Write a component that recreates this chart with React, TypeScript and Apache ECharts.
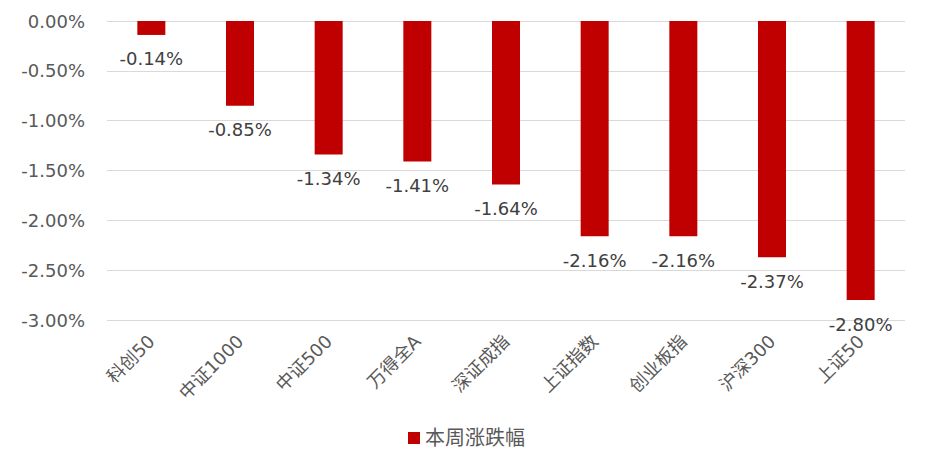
import React, { useEffect, useRef } from "react";
import * as echarts from "echarts";

const categories = ["科创50", "中证1000", "中证500", "万得全A", "深证成指", "上证指数", "创业板指", "沪深300", "上证50"];
const weeklyChange = [-0.14, -0.85, -1.34, -1.41, -1.64, -2.16, -2.16, -2.37, -2.8];
const seriesName = "本周涨跌幅";

const FONT = "'DejaVu Sans', 'Noto Sans CJK SC', sans-serif";

export default function App() {
  const ref = useRef<HTMLDivElement>(null);
  useEffect(() => {
    document.body.style.margin = "0";
    const chart = echarts.init(ref.current!, null, { renderer: "svg" });
    chart.setOption({
      animation: false,
      textStyle: { fontFamily: FONT },
      grid: { left: 107, right: 25, top: 21, bottom: 145 },
      legend: {
        data: [seriesName],
        left: 403,
        top: 423,
        itemWidth: 12,
        itemHeight: 12,
        icon: "rect",
        itemGap: 10,
        textStyle: { fontSize: 20, color: "#595959", fontFamily: FONT },
      },
      xAxis: {
        type: "category",
        data: categories,
        position: "bottom",
        axisLine: { show: false, onZero: false },
        axisTick: { show: false },
        axisLabel: {
          rotate: 45,
          fontSize: 18,
          color: "#595959",
          margin: 18,
          interval: 0,
          fontFamily: FONT,
        },
      },
      yAxis: {
        type: "value",
        min: -3,
        max: 0,
        interval: 0.5,
        axisLine: { show: false },
        axisTick: { show: false },
        splitLine: { lineStyle: { color: "#d9d9d9", width: 1 } },
        axisLabel: {
          fontSize: 18,
          color: "#595959",
          margin: 22,
          fontFamily: FONT,
          formatter: (v: number) => (Math.abs(v) < 1e-9 ? "0.00%" : v.toFixed(2) + "%"),
        },
      },
      series: [
        {
          name: seriesName,
          type: "bar",
          data: weeklyChange,
          barWidth: 28,
          itemStyle: { color: "#c00000" },
          label: {
            show: true,
            position: "bottom",
            distance: 15,
            fontSize: 18,
            color: "#404040",
            fontFamily: FONT,
            formatter: (p: any) => p.value.toFixed(2) + "%",
          },
        },
      ],
    });
    return () => chart.dispose();
  }, []);
  return <div ref={ref} style={{ width: 930, height: 465 }} />;
}
